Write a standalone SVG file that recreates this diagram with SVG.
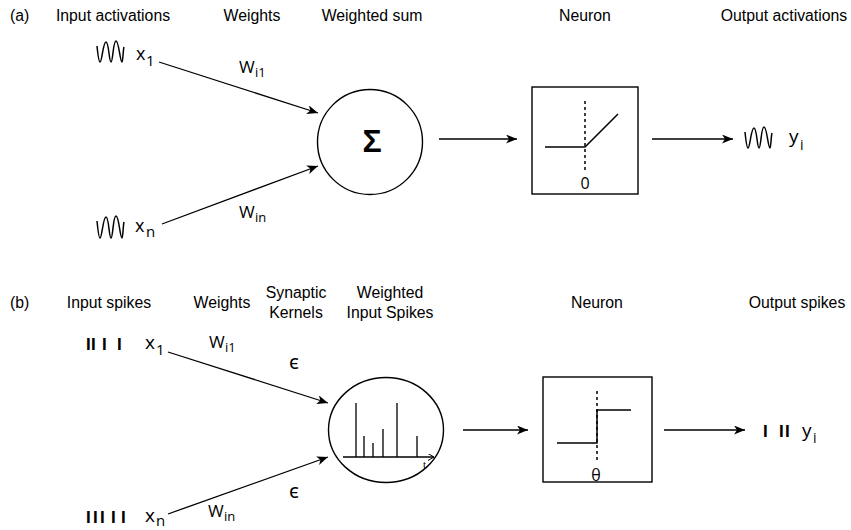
<svg xmlns="http://www.w3.org/2000/svg" width="851" height="530" viewBox="0 0 851 530">
<defs>
<marker id="ah" markerUnits="userSpaceOnUse" markerWidth="12" markerHeight="10" refX="11" refY="4.5" orient="auto"><path d="M0,0 L11,4.5 L0,9 L3,4.5 Z" fill="#000"/></marker>
<marker id="oh" markerUnits="userSpaceOnUse" markerWidth="8" markerHeight="8" refX="6" refY="3.5" orient="auto"><path d="M0,0 L6,3.5 L0,7" fill="none" stroke="#000" stroke-width="1"/></marker>
<style>
.h{font-family:"Liberation Sans",Arial,sans-serif;font-size:15.8px;fill:#000}
.m{font-family:"Open Sans","Noto Sans",sans-serif;fill:#000}
.ln{stroke:#000;stroke-width:1.3;fill:none}
.sh{stroke:#000;stroke-width:1.5;fill:none}
.dash{stroke:#000;stroke-width:1.5;stroke-dasharray:3,3;fill:none}
.bar{font-family:"Liberation Sans",Arial,sans-serif;font-weight:bold;font-size:17px;fill:#000}
</style>
</defs>
<rect width="851" height="530" fill="#fff"/>

<g id="headers-a">
<text class="h" x="10" y="21">(a)</text>
<text class="h" x="113" y="21" text-anchor="middle">Input activations</text>
<text class="h" x="252" y="21" text-anchor="middle">Weights</text>
<text class="h" x="372" y="21" text-anchor="middle">Weighted sum</text>
<text class="h" x="585" y="21" text-anchor="middle">Neuron</text>
<text class="h" x="784" y="21" text-anchor="middle">Output activations</text>
</g>

<g id="input-a1">
<path class="sh" d="M97,46 C98,56 99,62 100,62 C102,62 103,42 106,42 C109,42 109,62 111,62 C113,62 113,41 116,41 C119,41 120,62 122,62 C123,62 123,50 124,47"/>
<text class="m" x="136" y="60" font-size="18">x</text><text class="m" x="146" y="66" font-size="15">1</text>
</g>
<g id="input-an">
<path class="sh" d="M97,221 C98,231 99,238 100,238 C102,238 103,217 106,217 C109,217 109,238 111,238 C113,238 113,216 116,216 C119,216 120,238 122,238 C123,238 123,226 124,222"/>
<text class="m" x="135" y="232" font-size="18">x</text><text class="m" x="146" y="237" font-size="15">n</text>
</g>
<g id="sum-a">
<circle cx="370" cy="142" r="52.5" fill="none" stroke="#000" stroke-width="1.4"/>
<text x="372" y="152" text-anchor="middle" font-family="Liberation Sans,Arial,sans-serif" font-weight="bold" font-size="32">Σ</text>
</g>
<g id="neuron-a">
<rect x="532" y="87" width="106" height="107" fill="none" stroke="#000" stroke-width="1.4"/>
<line class="dash" x1="585" y1="101" x2="585" y2="173"/>
<path class="sh" d="M545,147 L585,147 L618,114"/>
<text class="m" x="585" y="189" font-size="16" text-anchor="middle">0</text>
</g>
<g id="output-a">
<path class="sh" d="M745,132 C746,142 747,148 748,148 C750,148 751,128 754,128 C757,128 757,148 759,148 C761,148 761,127 764,127 C767,127 768,148 770,148 C771,148 771,136 772,133"/>
<text class="m" x="789" y="143" font-size="19">y</text><text class="m" x="800" y="150" font-size="14">i</text>
</g>

<g id="connectors-a">
<line class="ln" x1="159" y1="62" x2="318" y2="113" marker-end="url(#ah)"/>
<line class="ln" x1="162" y1="224" x2="318" y2="166" marker-end="url(#ah)"/>
<line class="ln" x1="439" y1="139" x2="517" y2="139" marker-end="url(#ah)"/>
<line class="ln" x1="652" y1="139" x2="733" y2="139" marker-end="url(#ah)"/>
<text class="m" x="239" y="73" font-size="17">W</text><text class="m" x="255" y="77" font-size="13">i1</text>
<text class="m" x="239" y="218" font-size="17">W</text><text class="m" x="255" y="222" font-size="13">in</text>
</g>

<g id="headers-b">
<text class="h" x="10" y="308">(b)</text>
<text class="h" x="109" y="308" text-anchor="middle">Input spikes</text>
<text class="h" x="222" y="308" text-anchor="middle">Weights</text>
<text class="h" x="296" y="298" text-anchor="middle">Synaptic</text>
<text class="h" x="296" y="318" text-anchor="middle">Kernels</text>
<text class="h" x="390" y="298" text-anchor="middle">Weighted</text>
<text class="h" x="390" y="318" text-anchor="middle">Input Spikes</text>
<text class="h" x="597" y="308" text-anchor="middle">Neuron</text>
<text class="h" x="797" y="308" text-anchor="middle">Output spikes</text>
</g>

<g id="input-b1">
<text class="bar" y="350"><tspan x="86">I</tspan><tspan x="91">I</tspan><tspan x="102">I</tspan><tspan x="117">I</tspan></text>
<text class="m" x="145" y="349" font-size="19">x</text><text class="m" x="156" y="355" font-size="15">1</text>
</g>
<g id="input-bn">
<text class="bar" y="523"><tspan x="86">I</tspan><tspan x="93">I</tspan><tspan x="100">I</tspan><tspan x="111">I</tspan><tspan x="121">I</tspan></text>
<text class="m" x="145" y="522" font-size="19">x</text><text class="m" x="156" y="526" font-size="15">n</text>
</g>
<g id="sum-b">
<ellipse cx="386" cy="430" rx="57.5" ry="52.5" fill="none" stroke="#000" stroke-width="1.4"/>
<line class="ln" x1="343" y1="457" x2="434" y2="457" marker-end="url(#oh)"/>
<path class="ln" d="M356,457 V403 M364,457 V436 M373,457 V443 M383,457 V429 M397,457 V403 M417,457 V436"/>
<text x="423" y="468" font-family="Liberation Serif,serif" font-size="11">t</text>
</g>
<g id="neuron-b">
<rect x="543" y="377" width="109" height="105" fill="none" stroke="#000" stroke-width="1.4"/>
<line class="dash" x1="597" y1="391" x2="597" y2="463"/>
<path class="sh" d="M557,443 L597,443 L597,410 L631,410"/>
<text class="m" x="596" y="481" font-size="16" text-anchor="middle">θ</text>
</g>
<g id="output-b">
<text class="bar" y="437"><tspan x="763">I</tspan><tspan x="779">I</tspan><tspan x="785">I</tspan></text>
<text class="m" x="802" y="437" font-size="19">y</text><text class="m" x="813" y="443" font-size="14">i</text>
</g>

<g id="connectors-b">
<line class="ln" x1="168" y1="352" x2="328" y2="403" marker-end="url(#ah)"/>
<line class="ln" x1="168" y1="514" x2="328" y2="457" marker-end="url(#ah)"/>
<line class="ln" x1="463" y1="430" x2="528" y2="430" marker-end="url(#ah)"/>
<line class="ln" x1="664" y1="430" x2="745" y2="430" marker-end="url(#ah)"/>
<text class="m" x="209" y="348" font-size="17">W</text><text class="m" x="225" y="352" font-size="13">i1</text>
<text class="m" x="208" y="517" font-size="17">W</text><text class="m" x="224" y="521" font-size="13">in</text>
<text class="m" x="289" y="369" font-size="20">ϵ</text>
<text class="m" x="289" y="498" font-size="20">ϵ</text>
</g>
</svg>
